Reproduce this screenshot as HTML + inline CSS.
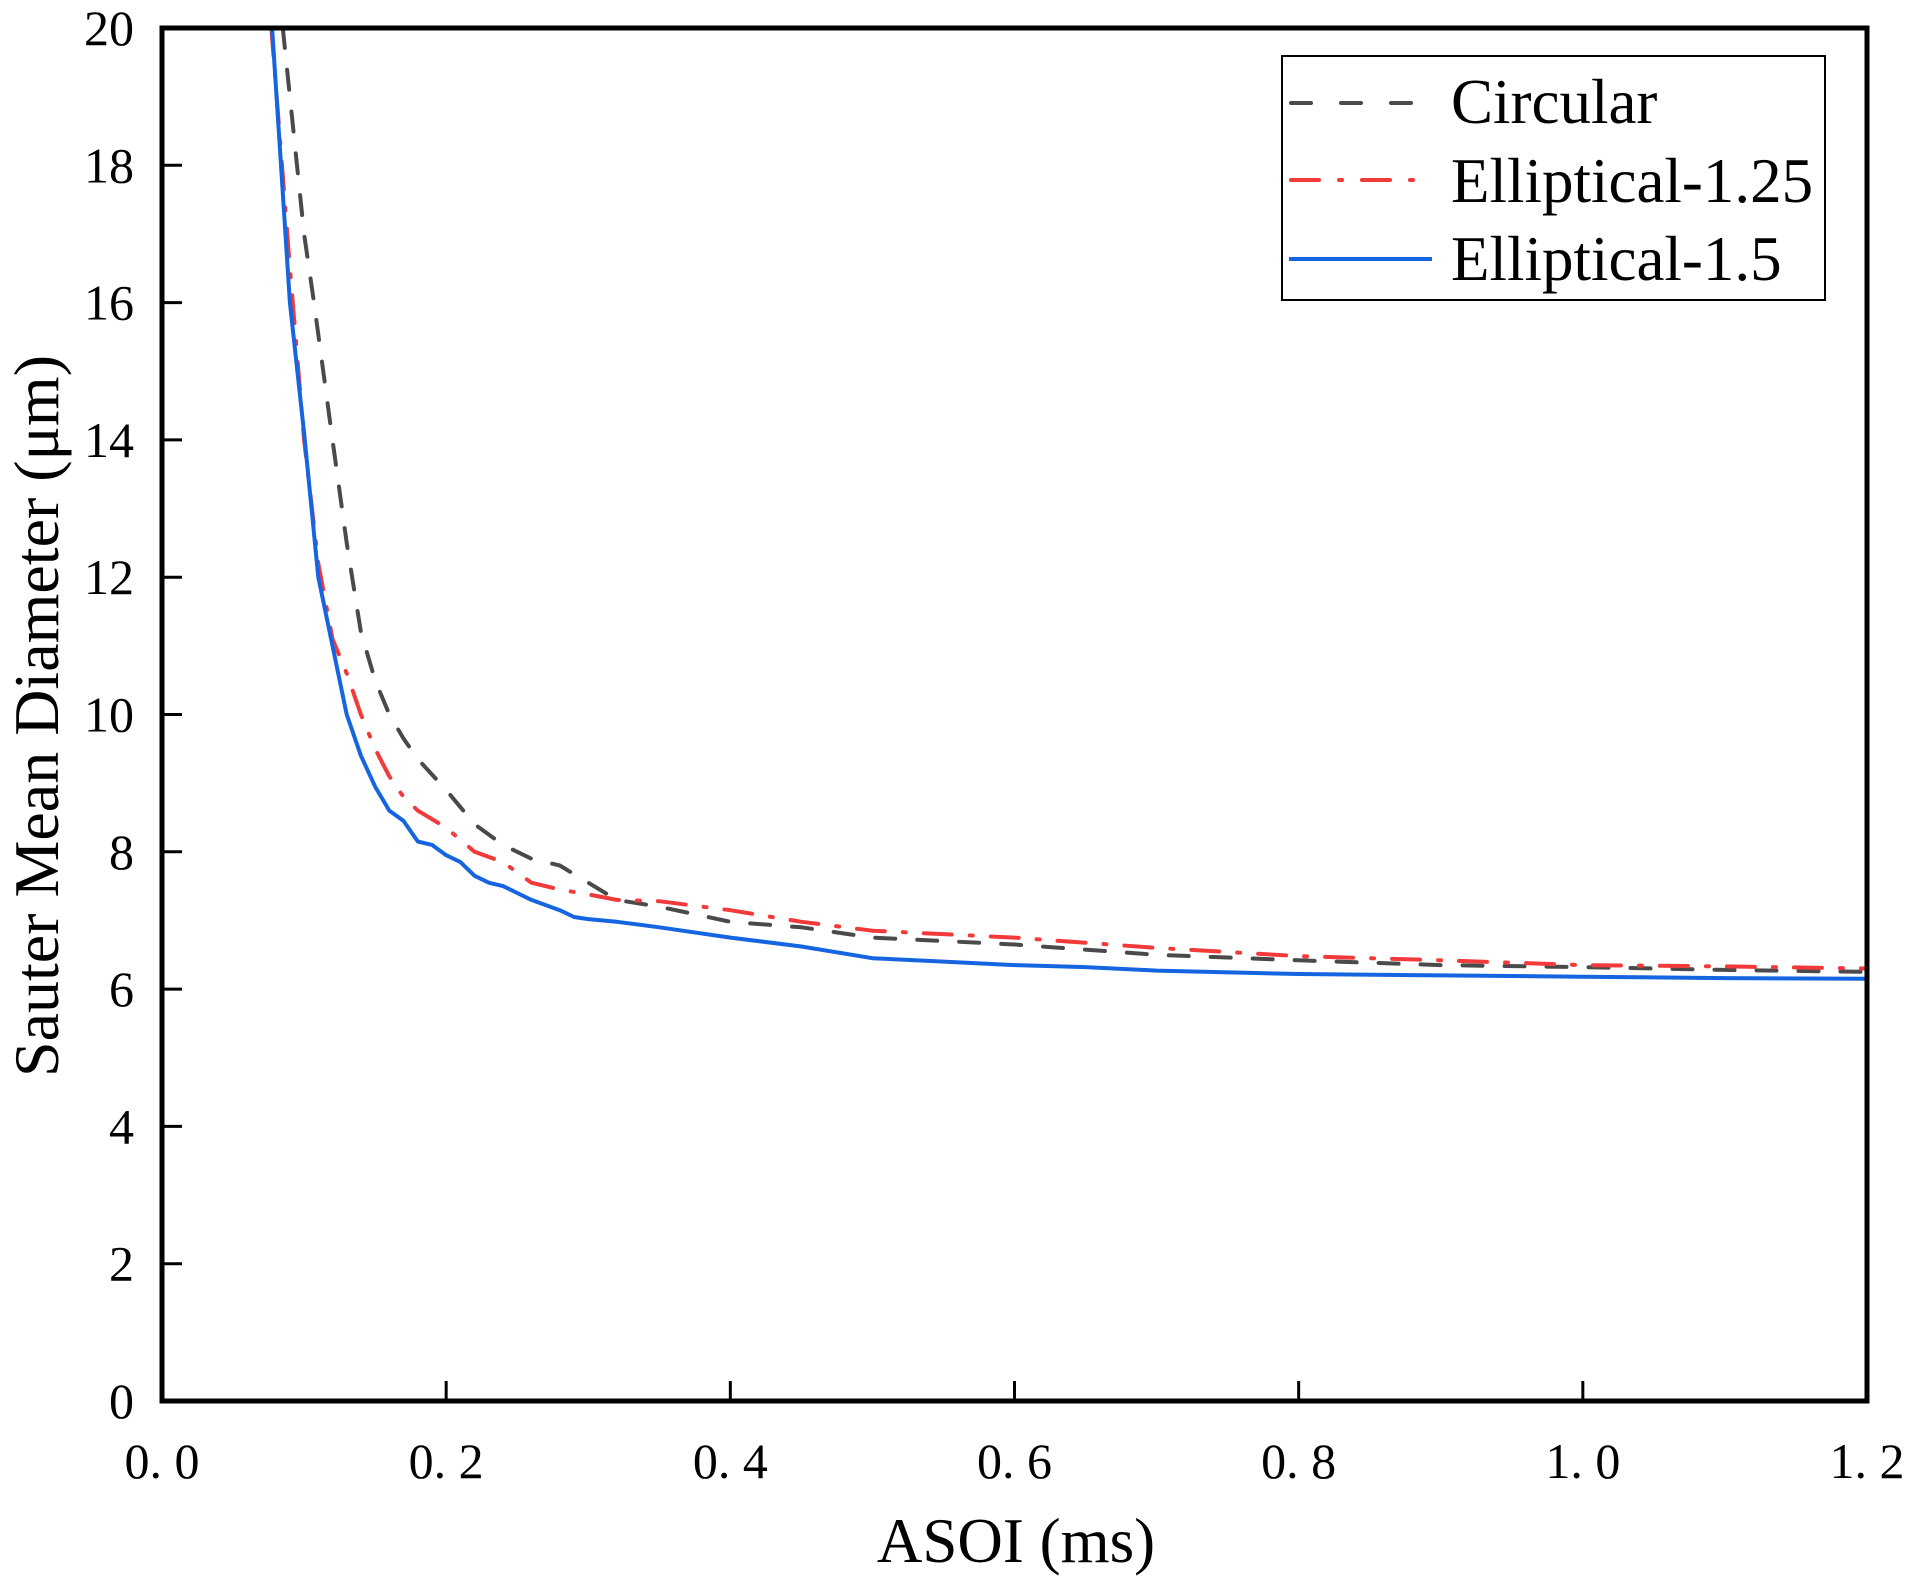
<!DOCTYPE html>
<html><head><meta charset="utf-8"><style>
body{margin:0;background:#fff;}
svg{display:block;font-family:"Liberation Serif",serif;}
</style></head><body>
<svg id="chart" width="1917" height="1582" viewBox="0 0 1917 1582" xmlns="http://www.w3.org/2000/svg">
<defs><clipPath id="plotclip"><rect x="162" y="28" width="1705" height="1373"/></clipPath></defs>
<g id="series" clip-path="url(#plotclip)"></g>
<g id="axes"></g>
<g id="legend">
<rect x="1282" y="56" width="543" height="244" fill="#fff" stroke="#000" stroke-width="2"/>
<line x1="1291" y1="103" x2="1432" y2="103" stroke="#4a4a4a" stroke-width="4" stroke-dasharray="20,30" stroke-linecap="round"/>
<text x="1451" y="123" font-size="63">Circular</text>
<line x1="1291" y1="180" x2="1432" y2="180" stroke="#f23a3a" stroke-width="4" stroke-dasharray="28,20,3,20" stroke-linecap="round"/>
<text x="1451" y="202" font-size="63">Elliptical-1.25</text>
<line x1="1289" y1="259" x2="1432" y2="259" stroke="#1565e0" stroke-width="4"/>
<text x="1451" y="280" font-size="63">Elliptical-1.5</text>
</g>
</svg>
<script>
const xTicks = [0, 0.2, 0.4, 0.6, 0.8, 1.0, 1.2];
const xTickLabels = ["0. 0","0. 2","0. 4","0. 6","0. 8","1. 0","1. 2"];
const yTicks = [0,2,4,6,8,10,12,14,16,18,20];
const circX = [0.085,0.1,0.107,0.12,0.13,0.14,0.15,0.16,0.17,0.18,0.2,0.22,0.24,0.26,0.28,0.3,0.32,0.35,0.4,0.45,0.5,0.6,0.7,0.8,0.9,1.0,1.1,1.2];
const circY = [20,17,16,14.0,12.5,11.2,10.5,10.0,9.65,9.35,8.9,8.4,8.1,7.9,7.8,7.55,7.3,7.2,6.98,6.9,6.75,6.65,6.5,6.42,6.35,6.32,6.28,6.25];
const ell125X = [0.077,0.09,0.1,0.11,0.12,0.13,0.14,0.15,0.16,0.17,0.18,0.2,0.22,0.24,0.26,0.28,0.3,0.32,0.35,0.4,0.45,0.5,0.6,0.7,0.8,0.9,1.0,1.1,1.2];
const ell125Y = [20,16.5,14,12.2,11.1,10.6,10.0,9.5,9.1,8.8,8.6,8.35,8.0,7.85,7.55,7.45,7.38,7.3,7.28,7.15,6.98,6.85,6.75,6.6,6.48,6.42,6.35,6.33,6.3];
const ell15X = [0.0775,0.09,0.1,0.11,0.12,0.13,0.14,0.15,0.16,0.17,0.18,0.19,0.2,0.21,0.22,0.23,0.24,0.25,0.26,0.28,0.29,0.3,0.32,0.35,0.4,0.45,0.5,0.55,0.6,0.65,0.7,0.8,0.9,1.0,1.1,1.2];
const ell15Y = [20,16,14.1,12,11.0,10.0,9.4,8.95,8.6,8.45,8.15,8.1,7.95,7.85,7.65,7.55,7.5,7.4,7.3,7.15,7.05,7.02,6.98,6.9,6.75,6.62,6.45,6.4,6.35,6.32,6.27,6.22,6.2,6.18,6.16,6.15];

const X0=162,X1=1867,Y0=1401,Y1=28;
const sx=v=>X0+(v/1.2)*(X1-X0);
const sy=v=>Y0-(v/20)*(Y0-Y1);
const NS="http://www.w3.org/2000/svg";
function mk(tag,attrs,parent){const e=document.createElementNS(NS,tag);for(const k in attrs)e.setAttribute(k,attrs[k]);parent.appendChild(e);return e;}
const series=document.getElementById('series');
const axes=document.getElementById('axes');
function drawLine(xs,ys,color,dash,name){
  const d=xs.map((x,i)=>(i?'L':'M')+sx(x).toFixed(1)+','+sy(ys[i]).toFixed(1)).join(' ');
  const p=mk('path',{d:d,fill:'none',stroke:color,'stroke-width':4,'stroke-linejoin':'round','stroke-linecap':'round'},series);
  if(dash)p.setAttribute('stroke-dasharray',dash);
  
  
}
drawLine(circX,circY,'#4a4a4a','20,22','series-circular');
drawLine(ell125X,ell125Y,'#f23a3a','28,18,3,18','series-elliptical-1-25');
drawLine(ell15X,ell15Y,'#1565e0',null,'series-elliptical-1-5');

const frame=mk('rect',{x:X0,y:Y1,width:X1-X0,height:Y0-Y1,fill:'none',stroke:'#000','stroke-width':5},axes);


xTicks.forEach((v,i)=>{
  const x=sx(v);
  if(i>0&&i<xTicks.length-1){
    const t=mk('line',{x1:x,y1:Y0,x2:x,y2:Y0-20,stroke:'#000','stroke-width':3},axes);
    
    
  }
  const l=mk('text',{x:x,y:1478,'font-size':50,'text-anchor':'middle'},axes);
  l.textContent=xTickLabels[i];
  
  
});
yTicks.forEach(v=>{
  const y=sy(v);
  if(v>0&&v<20){
    const t=mk('line',{x1:X0,y1:y,x2:X0+20,y2:y,stroke:'#000','stroke-width':3},axes);
    
    
  }
  const l=mk('text',{x:134,y:y+17,'font-size':50,'text-anchor':'end'},axes);
  l.textContent=String(v);
  
  
});
const xt=mk('text',{x:1016,y:1562,'font-size':63,'text-anchor':'middle'},axes);
xt.textContent='ASOI (ms)';


const yt=mk('text',{x:0,y:0,'font-size':64,'text-anchor':'middle',transform:'translate(58,716) rotate(-90)'},axes);
yt.textContent='Sauter Mean Diameter (μm)';


</script>
</body></html>
